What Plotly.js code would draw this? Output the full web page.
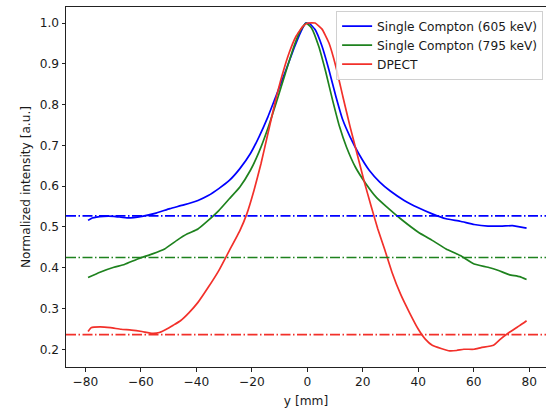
<!DOCTYPE html>
<html>
<head>
<meta charset="utf-8">
<script src="https://cdn.plot.ly/plotly-3.0.1.min.js"></script>
<style>html,body{margin:0;padding:0;background:#fff;}#chart{width:546px;height:414px;}</style>
</head>
<body>
<div id="chart"></div>
<script>
// Single Compton (605 keV)
const xBlue = [-79,-77.5,-73.4,-69.7,-64.6,-59.6,-54.5,-49.5,-44.5,-39.4,-35.7,-31.9,-28.1,-24.3,-20.5,-17.4,-14.2,-11.1,-7.9,-4.8,-2.3,-0.6,0.9,2.8,5.3,7.8,10.3,12.8,15.4,18.5,22.3,26.1,29.9,34.9,40.0,45.0,50.0,55.1,60.1,65.1,70.2,73.9,79];
const yBlue = [0.516,0.522,0.526,0.526,0.522,0.526,0.534,0.545,0.554,0.565,0.577,0.594,0.614,0.643,0.680,0.721,0.770,0.824,0.881,0.938,0.979,1.0,0.998,0.984,0.943,0.885,0.820,0.762,0.721,0.680,0.639,0.610,0.588,0.565,0.547,0.532,0.520,0.514,0.506,0.502,0.502,0.503,0.497];

// Single Compton (795 keV)
const xGreen = [-79,-74.7,-69.7,-65.9,-60.9,-55.8,-51.4,-47.0,-43.2,-39.4,-35.7,-31.9,-28.1,-24.3,-20.5,-17.4,-14.2,-11.1,-7.9,-4.8,-2.3,-0.4,1.5,4.1,6.6,9.1,11.6,14.1,17.3,21.1,24.8,28.6,33.6,40.0,45.0,50.0,55.1,60.1,65.1,68.9,72.7,76.5,79];
const yGreen = [0.376,0.389,0.401,0.408,0.422,0.434,0.446,0.467,0.483,0.495,0.516,0.540,0.569,0.598,0.639,0.684,0.742,0.807,0.877,0.943,0.984,1.0,0.988,0.943,0.881,0.811,0.746,0.696,0.647,0.606,0.573,0.549,0.520,0.487,0.467,0.446,0.430,0.409,0.401,0.393,0.383,0.378,0.371];

// DPECT
const xRed = [-79,-77.9,-74.7,-70.9,-67.1,-63.4,-59.6,-55.8,-53.3,-50.8,-48.3,-45.7,-42.6,-39.4,-35.7,-31.9,-28.1,-24.3,-21.8,-19.2,-16.7,-14.2,-11.7,-9.2,-6.6,-4.1,-1.6,0.3,2.8,5.3,7.8,10.3,12.8,15.4,17.9,20.4,22.9,25.4,28.0,30.5,33.6,36.8,40.0,42.5,45.0,48.2,51.3,53.8,56.4,60.1,62.6,67.1,69.6,72.7,76.5,79];
const yRed = [0.2435,0.253,0.255,0.253,0.249,0.247,0.2435,0.239,0.241,0.249,0.259,0.270,0.290,0.315,0.352,0.393,0.442,0.491,0.532,0.590,0.655,0.729,0.803,0.869,0.926,0.967,0.992,1.0,1.0,0.985,0.951,0.893,0.820,0.746,0.680,0.614,0.553,0.495,0.442,0.389,0.335,0.290,0.249,0.225,0.210,0.202,0.196,0.197,0.200,0.200,0.204,0.210,0.225,0.241,0.258,0.270];

// Reference levels (dash-dot lines)
const levelValues = [0.527, 0.425, 0.236];
const levelColors = ['#0000ff', '#1e821e', '#f2302a'];

const seriesNames = ['Single Compton (605 keV)', 'Single Compton (795 keV)', 'DPECT'];
const xTicks = [-80, -60, -40, -20, 0, 20, 40, 60, 80];
const yTicks = [0.2, 0.3, 0.4, 0.5, 0.6, 0.7, 0.8, 0.9, 1.0];

const xs = [xBlue, xGreen, xRed];
const ys = [yBlue, yGreen, yRed];

const traces = seriesNames.map((n, i) => ({
  x: xs[i], y: ys[i], name: n, type: 'scatter', mode: 'lines',
  line: {color: levelColors[i], width: 1.7, shape: 'spline', smoothing: 0.4}
}));

const shapes = levelValues.map((v, i) => ({
  type: 'line', xref: 'paper', x0: 0, x1: 1, yref: 'y', y0: v, y1: v,
  line: {color: levelColors[i], width: 1.7, dash: '10px,2.5px,1.5px,2.5px'},
  layer: 'above'
}));

const font = {family: 'DejaVu Sans', size: 12.2, color: '#1a1a1a'};

const layout = {
  width: 546, height: 414,
  margin: {l: 66, r: 0, t: 7, b: 47, pad: 0},
  paper_bgcolor: '#fff', plot_bgcolor: '#fff',
  font: font,
  showlegend: true,
  legend: {
    x: 0.994, xanchor: 'right', y: 0.99, yanchor: 'top',
    bgcolor: 'rgba(255,255,255,0.8)', bordercolor: '#d0d0d0', borderwidth: 1,
    font: font, tracegroupgap: 0, itemwidth: 30
  },
  xaxis: {
    range: [-86.95, 86.0], tickvals: xTicks, ticktext: xTicks.map(v => v < 0 ? '\u2212' + Math.abs(v) : String(v)),
    showgrid: false, zeroline: false, showline: true, linecolor: '#222', linewidth: 1,
    mirror: true, ticks: 'outside', ticklen: 3.5, tickwidth: 1, tickcolor: '#222',
    tickfont: font, title: {text: 'y [mm]', font: font, standoff: 8}
  },
  yaxis: {
    range: [0.1565, 1.0393], tickvals: yTicks, ticktext: yTicks.map(v => v.toFixed(1)),
    showgrid: false, zeroline: false, showline: true, linecolor: '#222', linewidth: 1,
    mirror: false, ticks: 'outside', ticklen: 3.5, tickwidth: 1, tickcolor: '#222',
    tickfont: font, title: {text: 'Normalized intensity [a.u.]', font: font, standoff: 6}
  },
  shapes: shapes
};

Plotly.newPlot('chart', traces, layout, {displayModeBar: false, staticPlot: true});
</script>
</body>
</html>
